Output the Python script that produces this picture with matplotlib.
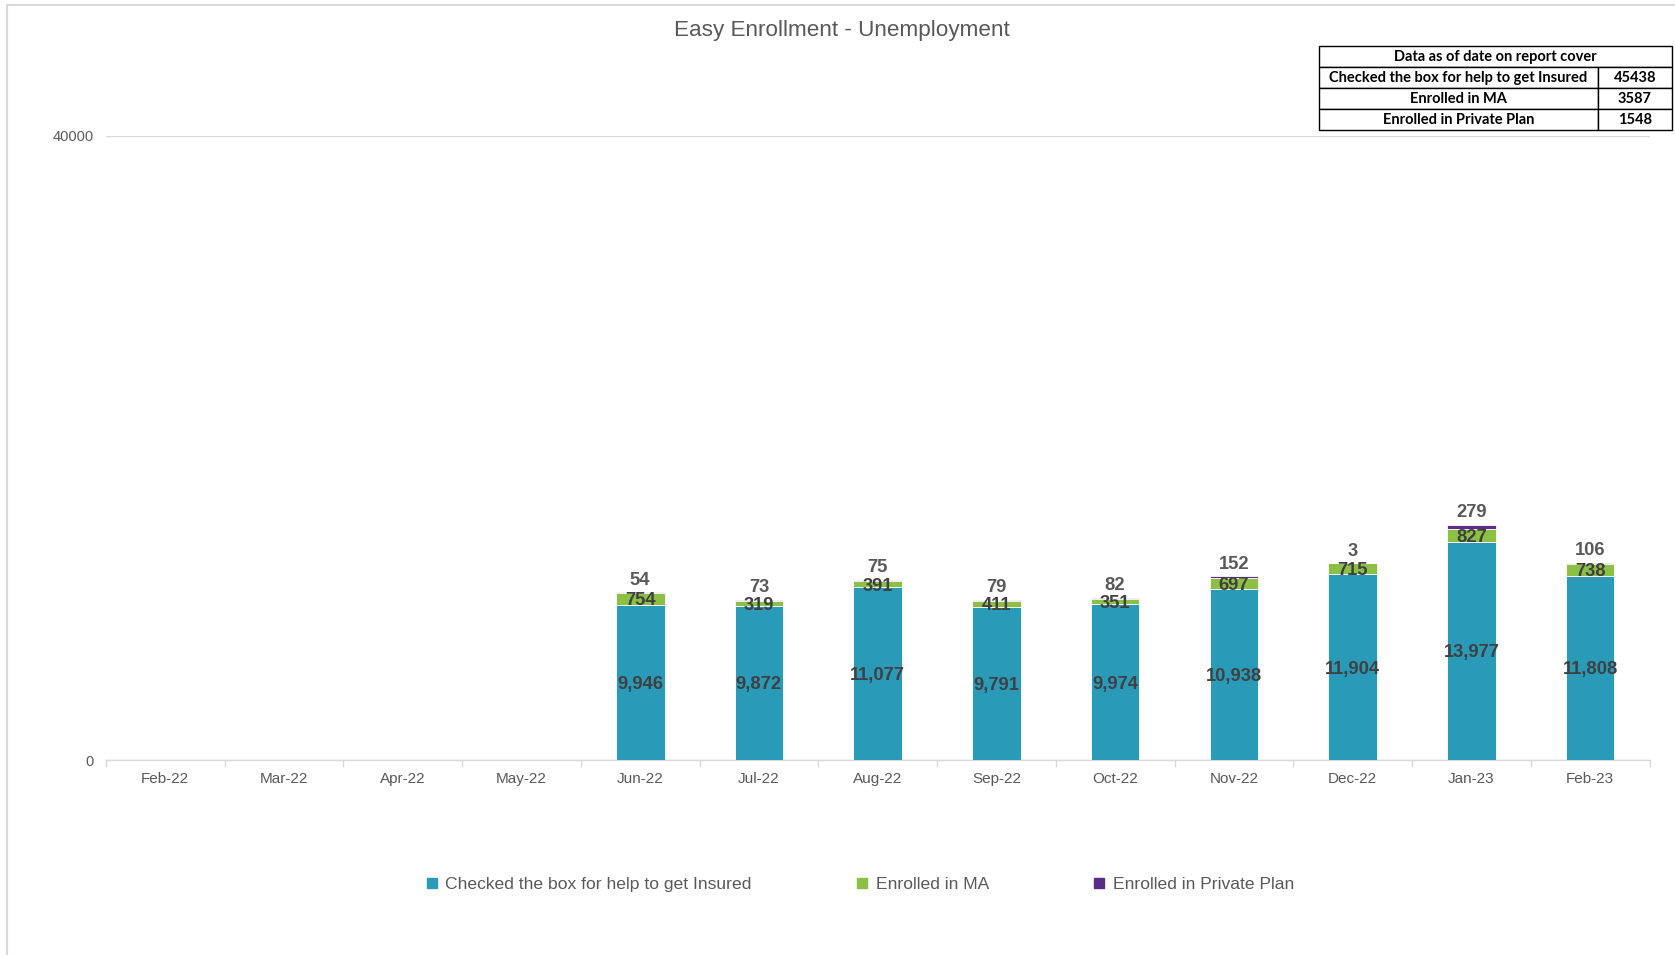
import matplotlib
matplotlib.use("Agg")
import matplotlib.pyplot as plt
from matplotlib.lines import Line2D
from matplotlib.font_manager import FontProperties
import numpy as np

# ---------------- data ----------------
months = ["Feb-22", "Mar-22", "Apr-22", "May-22", "Jun-22", "Jul-22", "Aug-22",
          "Sep-22", "Oct-22", "Nov-22", "Dec-22", "Jan-23", "Feb-23"]
checked_box = [0, 0, 0, 0, 9946, 9872, 11077, 9791, 9974, 10938, 11904, 13977, 11808]
enrolled_ma = [0, 0, 0, 0, 754, 319, 391, 411, 351, 697, 715, 827, 738]
enrolled_private = [0, 0, 0, 0, 54, 73, 75, 79, 82, 152, 3, 279, 106]
series_names = ["Checked the box for help to get Insured", "Enrolled in MA",
                "Enrolled in Private Plan"]
y_ticks = [0, 40000]
title = "Easy Enrollment - Unemployment"
table_header = "Data as of date on report cover"
table_labels = ["Checked the box for help to get Insured", "Enrolled in MA",
                "Enrolled in Private Plan"]
table_values = ["45438", "3587", "1548"]

# ---------------- style ----------------
C_TEAL = "#2a9ab9"
C_GREEN = "#8cc045"
C_PURPLE = "#5c2d87"
C_GRID = "#d9d9d9"
C_TICK = "#595959"
C_LABEL = "#404040"
FONT = "Liberation Sans"

W, H = 1675, 955
fig = plt.figure(figsize=(W / 100, H / 100), dpi=100)
fig.patch.set_facecolor("white")

def fx(px):
    return px / W

def fy(py):
    return 1 - py / H

ax_l, ax_r, ax_t, ax_b = 105.8, 1649.5, 135.7, 760.0
ax = fig.add_axes([fx(ax_l), fy(ax_b), fx(ax_r - ax_l), (ax_b - ax_t) / H])

x = np.arange(len(months))
tb = np.array(checked_box, dtype=float)
ma = np.array(enrolled_ma, dtype=float)
pp = np.array(enrolled_private, dtype=float)
bw = 0.41

ax.bar(x, tb, bw, color=C_TEAL, edgecolor="white", linewidth=0.6, zorder=3)
ax.bar(x, ma, bw, bottom=tb, color=C_GREEN, edgecolor="white", linewidth=0.6, zorder=3)
ax.bar(x, pp, bw, bottom=tb + ma, color=C_PURPLE, edgecolor="white", linewidth=0.6, zorder=3)

lab_kw = dict(fontsize=13.2, fontweight="bold", family=FONT, ha="center",
              va="center_baseline", zorder=5)
for i in range(len(months)):
    if tb[i] > 0:
        ax.text(x[i], tb[i] / 2, f"{int(tb[i]):,}", color=C_LABEL, **lab_kw)
    if ma[i] > 0:
        ax.text(x[i], tb[i] + ma[i] / 2, f"{int(ma[i]):,}", color=C_LABEL, **lab_kw)
    if pp[i] > 0:
        ax.annotate(f"{int(pp[i]):,}", (x[i], tb[i] + ma[i] + pp[i]),
                    xytext=(0, 10), textcoords="offset points",
                    color=C_TICK, **lab_kw)

ax.set_xlim(-0.5, len(months) - 0.5)
ax.set_ylim(0, 40000)
ax.set_yticks(y_ticks)
ax.set_yticklabels([str(v) for v in y_ticks], family=FONT, fontsize=10.5, color=C_TICK)
ax.tick_params(axis="y", length=0, pad=9)
ax.set_xticks(x)
ax.set_xticklabels(months, family=FONT, fontsize=11, color=C_TICK)
ax.set_xticks(np.arange(-0.5, len(months), 1.0), minor=True)
ax.tick_params(axis="x", which="major", length=0, pad=8.5)
ax.tick_params(axis="x", which="minor", length=5, width=1, color=C_GRID)
ax.yaxis.grid(True, color=C_GRID, linewidth=1, zorder=0)
ax.set_axisbelow(True)
for s in ["top", "right", "left"]:
    ax.spines[s].set_visible(False)
ax.spines["bottom"].set_color(C_GRID)
ax.spines["bottom"].set_linewidth(1)

# title
fig.text(fx(841.8), fy(30.8), title, ha="center", va="center",
         fontsize=16.2, color=C_TICK, family=FONT)

# legend
handles = [Line2D([], [], marker="s", linestyle="", markersize=6.5, color=c)
           for c in (C_TEAL, C_GREEN, C_PURPLE)]
leg = fig.legend(handles, series_names, loc="center", ncol=3,
                 bbox_to_anchor=(fx(860), fy(884.6)), frameon=False,
                 prop={"family": FONT, "size": 12.6}, handlelength=0.7,
                 handletextpad=0.42, columnspacing=5.96, labelcolor=C_TICK)

# outer chart frame
fig.add_artist(Line2D([fx(6.5), fx(6.5)], [0, fy(5.5)], color=C_GRID, linewidth=1.5))
fig.add_artist(Line2D([fx(6.5), 1], [fy(5.5), fy(5.5)], color=C_GRID, linewidth=1.5))

# data table (top-right)
t_l, t_r, t_t, t_b = 1319.3, 1671.7, 46.0, 130.3
tax = fig.add_axes([fx(t_l), fy(t_b), fx(t_r - t_l), (t_b - t_t) / H])
tax.axis("off")
tfont = FontProperties(family="Lato", weight="bold", size=10.5)
hdr = tax.table(cellText=[[table_header]], cellLoc="center",
                bbox=[0, 0.75, 1, 0.25])
body = tax.table(cellText=[[l, v] for l, v in zip(table_labels, table_values)],
                 cellLoc="center", colWidths=[0.79, 0.21], bbox=[0, 0, 1, 0.75])
for tbl in (hdr, body):
    tbl.auto_set_font_size(False)
    for (r, c), cell in tbl.get_celld().items():
        cell.set_edgecolor("black")
        cell.set_linewidth(1.0)
        cell.get_text().set_fontproperties(tfont)
        cell.get_text().set_color("black")

fig.savefig("out.png", dpi=100, facecolor="white")
